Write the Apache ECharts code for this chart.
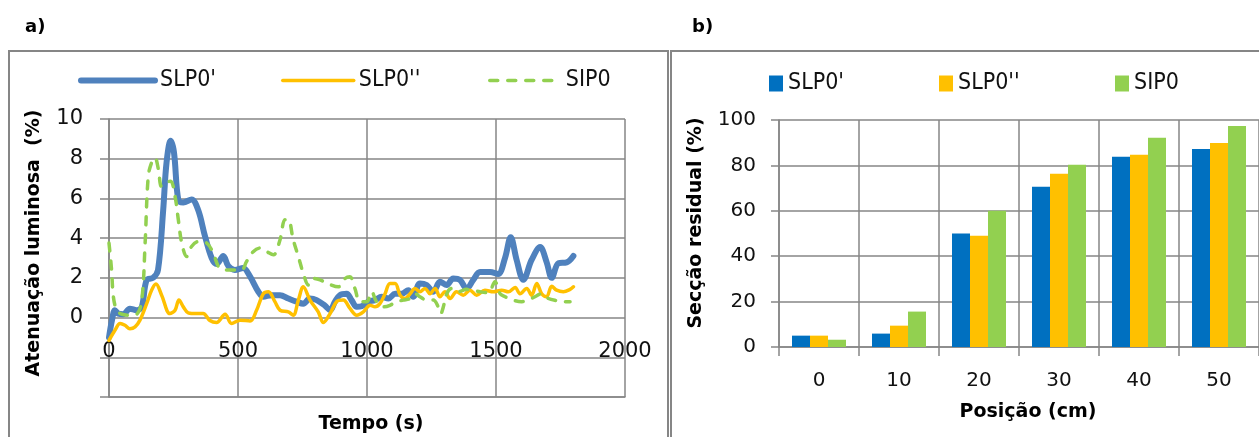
<!DOCTYPE html>
<html>
<head>
<meta charset="utf-8">
<script src="https://cdn.jsdelivr.net/npm/echarts@6/dist/echarts.min.js"></script>
<style>
  html, body { margin: 0; padding: 0; background: #fff; }
  #main { width: 1259px; height: 437px; }
</style>
</head>
<body>
<div id="main"></div>
<script>
// series names
const names = ["SLP0'", "SLP0''", 'SIP0']

// a) light attenuation (%) vs time (s)
const slp1Time = [0, 12, 23, 36, 55, 81, 107, 127, 146, 171, 190, 210, 223, 239, 252, 269, 288, 320, 346, 372, 398, 417, 443, 462, 488, 520, 547, 579, 598, 630, 663, 695, 727, 753, 779, 805, 837, 857, 876, 895, 921, 940, 960, 979, 1005, 1031, 1057, 1083, 1109, 1134, 1160, 1179, 1205, 1231, 1257, 1283, 1309, 1334, 1360, 1386, 1412, 1438, 1477, 1508, 1535, 1557, 1580, 1606, 1638, 1671, 1696, 1716, 1742, 1774, 1800]
const slp1Value = [-1.0, -0.1, 0.37, 0.2, 0.17, 0.45, 0.37, 0.54, 1.9, 2.0, 2.4, 5.4, 7.8, 8.9, 8.3, 5.9, 5.8, 5.95, 5.4, 4.1, 3.0, 2.7, 3.1, 2.6, 2.4, 2.5, 2.06, 1.3, 1.05, 1.13, 1.13, 0.96, 0.8, 0.7, 0.96, 0.88, 0.6, 0.37, 0.8, 1.13, 1.2, 0.88, 0.54, 0.57, 0.8, 0.88, 1.05, 0.96, 1.2, 1.2, 1.38, 1.05, 1.72, 1.64, 1.3, 1.8, 1.64, 1.97, 1.9, 1.45, 1.9, 2.3, 2.3, 2.2, 3.0, 4.05, 2.9, 1.9, 2.9, 3.55, 2.8, 2.0, 2.74, 2.78, 3.1]

const slp2Time = [0, 23, 43, 62, 81, 101, 120, 146, 165, 182, 204, 236, 256, 271, 288, 307, 340, 365, 391, 417, 450, 475, 508, 547, 572, 598, 618, 643, 663, 695, 714, 734, 753, 779, 811, 831, 857, 882, 908, 934, 960, 986, 1012, 1031, 1050, 1070, 1089, 1109, 1128, 1147, 1167, 1186, 1205, 1225, 1244, 1264, 1283, 1302, 1322, 1347, 1373, 1399, 1425, 1457, 1490, 1522, 1548, 1574, 1593, 1619, 1638, 1658, 1677, 1696, 1716, 1735, 1761, 1787, 1800]
const slp2Value = [-1.15, -0.64, -0.3, -0.39, -0.56, -0.47, -0.13, 0.7, 1.38, 1.69, 1.13, 0.2, 0.37, 0.88, 0.54, 0.24, 0.2, 0.2, -0.15, -0.25, 0.17, -0.3, -0.13, -0.17, 0.37, 1.2, 1.3, 0.8, 0.37, 0.29, 0.12, 0.88, 1.55, 0.88, 0.29, -0.25, 0.2, 0.8, 0.88, 0.46, 0.12, 0.29, 0.62, 0.54, 0.7, 1.2, 1.72, 1.72, 1.13, 0.96, 1.2, 1.47, 1.3, 1.47, 1.2, 1.47, 1.05, 1.3, 0.96, 1.3, 1.13, 1.38, 1.13, 1.38, 1.3, 1.38, 1.3, 1.52, 1.2, 1.47, 1.13, 1.72, 1.2, 1.05, 1.58, 1.38, 1.3, 1.42, 1.55]

const sipTime = [0, 10, 17, 30, 49, 75, 107, 127, 140, 152, 165, 178, 191, 204, 223, 239, 256, 269, 282, 301, 320, 346, 379, 404, 424, 443, 482, 514, 533, 559, 585, 611, 637, 663, 682, 695, 714, 734, 753, 773, 792, 818, 850, 889, 915, 934, 953, 973, 999, 1018, 1037, 1063, 1089, 1115, 1141, 1167, 1186, 1205, 1231, 1257, 1276, 1286, 1296, 1309, 1328, 1354, 1386, 1438, 1470, 1496, 1516, 1535, 1567, 1599, 1625, 1651, 1677, 1703, 1735, 1761, 1787]
const sipValue = [3.75, 2.4, 1.05, 0.37, 0.17, 0.12, 0.17, 0.88, 3.75, 7.1, 7.8, 8.05, 7.5, 6.6, 6.8, 6.87, 6.1, 4.9, 3.75, 3.07, 3.58, 3.83, 3.75, 3.24, 2.57, 2.4, 2.4, 2.4, 2.82, 3.32, 3.5, 3.32, 3.16, 3.92, 4.93, 4.93, 3.92, 3.07, 2.23, 1.64, 1.97, 1.9, 1.7, 1.55, 1.97, 2.06, 1.47, 0.8, 0.8, 1.3, 0.8, 0.54, 0.62, 0.8, 0.88, 0.96, 1.2, 1.05, 0.88, 0.88, 0.54, 0.2, 0.54, 1.2, 1.47, 1.3, 1.42, 1.3, 1.25, 1.8, 1.2, 1.05, 0.88, 0.8, 0.88, 1.05, 1.2, 0.96, 0.85, 0.8, 0.8]

// b) residual section (%) vs position (cm)
const positions = ['0', '10', '20', '30', '40', '50']
const residualSlp1 = [5.0, 5.9, 50, 70.6, 83.8, 87.2]
const residualSlp2 = [5.0, 9.4, 49, 76.3, 84.7, 89.9]
const residualSip = [3.2, 15.6, 60, 80.3, 92.2, 97.4]

const zip = (xs, ys) => xs.map((x, i) => [x, ys[i]])

const gridGray = '#868686'
const tickFont = { fontFamily: 'DejaVu Sans', fontSize: 21, color: '#111' }
const legendFont = { fontFamily: "'Liberation Sans Narrow', 'DejaVu Sans Condensed', sans-serif", fontSize: 23, color: '#111' }
const titleFont = 'bold 19px "DejaVu Sans"'

const lineColors = ['#4F81BD', '#FFC000', '#92D050']
const barColors = ['#0070C0', '#FFC000', '#92D050']
const lineWidths = [6, 3.5, 3.5]
// bar series get a zero-width space so their legends keep their own colours
const barNames = names.map(n => n + '\u200b')

const lineLegend = (i, left, w) => ({
  data: [names[i]], left: left, top: 69, padding: 0, itemWidth: w, itemHeight: 14,
  itemStyle: { opacity: 0 },
  lineStyle: { width: lineWidths[i], cap: 'round' },
  textStyle: legendFont
})
const barLegend = (i, left) => ({
  data: [barNames[i]], left: left, top: 72, padding: 0, icon: 'rect',
  itemWidth: 14, itemHeight: 16, textStyle: legendFont
})

const chart = echarts.init(document.getElementById('main'), null, { renderer: 'canvas' })

const option = {
  animation: false,
  backgroundColor: '#fff',
  grid: [
    { left: 109, top: 119, width: 516, height: 278, outerBoundsMode: 'none' },
    { left: 779, top: 120, width: 480, height: 227, outerBoundsMode: 'none' }
  ],
  legend: [
    lineLegend(0, 78, 74),
    lineLegend(1, 281, 71),
    lineLegend(2, 488, 71),
    barLegend(0, 769),
    barLegend(1, 939),
    barLegend(2, 1115)
  ],
  xAxis: [
    {
      type: 'value', gridIndex: 0, min: 0, max: 2000, interval: 500,
      axisLine: { show: true, onZero: false, lineStyle: { color: gridGray, width: 1.5 } },
      axisTick: { show: false },
      // labels sit just under the zero line, as in the original
      axisLabel: Object.assign({ margin: -56, formatter: v => String(v) }, tickFont),
      splitLine: { show: true, lineStyle: { color: gridGray, width: 1.5 } }
    },
    {
      type: 'category', gridIndex: 1, data: positions,
      axisLine: { show: true, lineStyle: { color: gridGray, width: 1.5 } },
      axisTick: { show: true, length: 9, lineStyle: { color: gridGray, width: 1.5 } },
      axisLabel: Object.assign({ margin: 24 }, tickFont, { fontSize: 20 }),
      splitLine: { show: true, lineStyle: { color: gridGray, width: 1.5 } }
    }
  ],
  yAxis: [
    {
      type: 'value', gridIndex: 0, min: -4, max: 10, interval: 2,
      axisLine: { show: true, onZero: false, lineStyle: { color: gridGray, width: 1.5 } },
      axisTick: { show: true, length: 9, lineStyle: { color: gridGray, width: 1.5 } },
      axisLabel: Object.assign({ margin: 26, formatter: v => (v >= 0 ? String(v) : '') }, tickFont),
      splitLine: { show: true, lineStyle: { color: gridGray, width: 1.5 } }
    },
    {
      type: 'value', gridIndex: 1, min: 0, max: 100, interval: 20,
      axisLine: { show: true, lineStyle: { color: gridGray, width: 1.5 } },
      axisTick: { show: true, length: 8, lineStyle: { color: gridGray, width: 1.5 } },
      axisLabel: Object.assign({ margin: 23 }, tickFont, { fontSize: 20 }),
      splitLine: { show: true, lineStyle: { color: gridGray, width: 1.5 } }
    }
  ],
  series: [
    {
      name: names[0], type: 'line', xAxisIndex: 0, yAxisIndex: 0,
      data: zip(slp1Time, slp1Value), smooth: 0.35, symbol: 'none', z: 3,
      lineStyle: { color: lineColors[0], width: lineWidths[0], cap: 'round', join: 'round' },
      itemStyle: { color: lineColors[0] }
    },
    {
      name: names[1], type: 'line', xAxisIndex: 0, yAxisIndex: 0,
      data: zip(slp2Time, slp2Value), smooth: 0.35, symbol: 'none', z: 4,
      lineStyle: { color: lineColors[1], width: lineWidths[1], cap: 'round', join: 'round' },
      itemStyle: { color: lineColors[1] }
    },
    {
      name: names[2], type: 'line', xAxisIndex: 0, yAxisIndex: 0,
      data: zip(sipTime, sipValue), smooth: 0.35, symbol: 'none', z: 5,
      lineStyle: { color: lineColors[2], width: lineWidths[2], type: [8, 10], cap: 'round', join: 'round' },
      itemStyle: { color: lineColors[2] }
    },
    {
      name: barNames[0], type: 'bar', xAxisIndex: 1, yAxisIndex: 1,
      data: residualSlp1, barWidth: 18, barGap: '0%',
      itemStyle: { color: barColors[0] }
    },
    {
      name: barNames[1], type: 'bar', xAxisIndex: 1, yAxisIndex: 1,
      data: residualSlp2, barWidth: 18, barGap: '0%',
      itemStyle: { color: barColors[1] }
    },
    {
      name: barNames[2], type: 'bar', xAxisIndex: 1, yAxisIndex: 1,
      data: residualSip, barWidth: 18, barGap: '0%',
      itemStyle: { color: barColors[2] }
    }
  ],
  graphic: [
    // chart frames
    { type: 'rect', z: -1, shape: { x: 9, y: 51, width: 659, height: 420 }, style: { fill: 'none', stroke: gridGray, lineWidth: 2 } },
    { type: 'rect', z: -1, shape: { x: 671, y: 51, width: 620, height: 420 }, style: { fill: 'none', stroke: gridGray, lineWidth: 2 } },
    // panel letters
    { type: 'text', x: 25, y: 27, style: { text: 'a)', font: 'bold 18px "DejaVu Sans"', fill: '#000', verticalAlign: 'middle' } },
    { type: 'text', x: 692, y: 27, style: { text: 'b)', font: 'bold 18px "DejaVu Sans"', fill: '#000', verticalAlign: 'middle' } },
    // axis titles
    { type: 'text', x: 371, y: 424, style: { text: 'Tempo (s)', font: titleFont, fill: '#000', align: 'center', verticalAlign: 'middle' } },
    { type: 'text', x: 34, y: 243, rotation: Math.PI / 2, style: { text: 'Atenuação luminosa  (%)', font: titleFont, fill: '#000', align: 'center', verticalAlign: 'middle' } },
    { type: 'text', x: 1028, y: 412, style: { text: 'Posição (cm)', font: titleFont, fill: '#000', align: 'center', verticalAlign: 'middle' } },
    { type: 'text', x: 696, y: 223, rotation: Math.PI / 2, style: { text: 'Secção residual (%)', font: titleFont, fill: '#000', align: 'center', verticalAlign: 'middle' } }
  ]
}

chart.setOption(option)
</script>
</body>
</html>
